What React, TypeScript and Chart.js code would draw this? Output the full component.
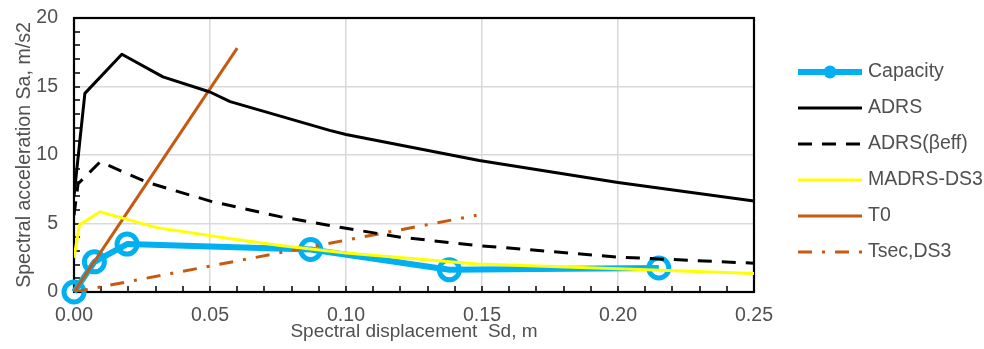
import React, { useEffect, useRef } from "react";
import { Chart, registerables } from "chart.js";

Chart.register(...registerables);

// ---- Data (Sd in m, Sa in m/s2) ----
const capacitySd = [0, 0.0075, 0.0195, 0.087, 0.138, 0.215];
const capacitySa = [0, 2.2, 3.5, 3.1, 1.62, 1.75];

const adrsSd = [0, 0.004, 0.0176, 0.0327, 0.05, 0.0574, 0.094, 0.1, 0.149, 0.2, 0.25];
const adrsSa = [7.0, 14.5, 17.35, 15.7, 14.6, 13.9, 11.8, 11.5, 9.6, 8.0, 6.65];

const adrsEffSd = [0, 0.0015, 0.0096, 0.027, 0.0507, 0.0757, 0.1, 0.12, 0.148, 0.2, 0.25];
const adrsEffSa = [5.6, 7.9, 9.5, 8.0, 6.6, 5.5, 4.65, 4.0, 3.4, 2.55, 2.1];

const madrsSd = [0, 0.002, 0.0096, 0.0305, 0.057, 0.0757, 0.1, 0.148, 0.2, 0.25];
const madrsSa = [2.5, 4.9, 5.85, 4.7, 3.9, 3.4, 2.85, 2.05, 1.7, 1.35];

const t0Sd = [0, 0.06];
const t0Sa = [0, 17.8];

const tsecSd = [0, 0.148];
const tsecSa = [0, 5.6];

const seriesLabels = ["Capacity", "ADRS", "ADRS(βeff)", "MADRS-DS3", "T0", "Tsec,DS3"];

const xMin = 0;
const xMax = 0.25;
const xStep = 0.05;
const xMinorStep = 0.01;
const yMin = 0;
const yMax = 20;
const yStep = 5;
const yMinorStep = 1;

const xTitle = "Spectral displacement  Sd, m";
const yTitle = "Spectral acceleration Sa, m/s2";

const FONT = "'Liberation Sans', Arial, sans-serif";
const TEXT_COLOR = "#505050";

const pts = (xs: number[], ys: number[]) => xs.map((x, i) => ({ x, y: ys[i] }));

const framePlugin = {
  id: "frameAndMinorTicks",
  beforeDatasetsDraw(chart: any) {
    const { ctx, chartArea } = chart;
    const { left, right, top, bottom } = chartArea;
    const xs = chart.scales.x;
    const ys = chart.scales.y;
    ctx.save();
    ctx.strokeStyle = "#000";
    ctx.lineWidth = 1.5;
    ctx.beginPath();
    const nx = Math.round((xMax - xMin) / xMinorStep);
    for (let i = 0; i <= nx; i++) {
      const px = Math.round(xs.getPixelForValue(xMin + i * xMinorStep));
      ctx.moveTo(px, bottom);
      ctx.lineTo(px, bottom - 6);
    }
    const ny = Math.round((yMax - yMin) / yMinorStep);
    for (let i = 0; i <= ny; i++) {
      const py = Math.round(ys.getPixelForValue(yMin + i * yMinorStep));
      ctx.moveTo(left, py);
      ctx.lineTo(left + 6, py);
    }
    ctx.stroke();
    ctx.lineWidth = 2.2;
    ctx.strokeRect(left, top, right - left, bottom - top);
    ctx.restore();
  },
};

const legendPlugin = {
  id: "customLegend",
  afterDraw(chart: any) {
    const { ctx, chartArea } = chart;
    const x0 = chartArea.right + 44;
    const x1 = x0 + 64;
    const y0 = chartArea.top + 54;
    const dy = 36;
    ctx.save();
    chart.data.datasets.forEach((ds: any, i: number) => {
      const y = y0 + i * dy;
      ctx.beginPath();
      ctx.strokeStyle = ds.borderColor;
      ctx.lineWidth = ds.borderWidth;
      ctx.setLineDash(ds.borderDash || []);
      ctx.lineCap = "butt";
      ctx.moveTo(x0, y);
      ctx.lineTo(x1, y);
      ctx.stroke();
      ctx.setLineDash([]);
      if (ds.pointRadius > 0) {
        ctx.beginPath();
        ctx.fillStyle = ds.pointBorderColor;
        ctx.arc((x0 + x1) / 2, y, 6.5, 0, Math.PI * 2);
        ctx.fill();
      }
      ctx.fillStyle = TEXT_COLOR;
      ctx.font = `19.5px ${FONT}`;
      ctx.textBaseline = "middle";
      ctx.textAlign = "left";
      ctx.fillText(ds.label, x1 + 6, y);
    });
    ctx.restore();
  },
};

export default function App() {
  const ref = useRef<HTMLCanvasElement>(null);

  useEffect(() => {
    document.body.style.margin = "0";
    const canvas = ref.current!;
    const orange = "#C55A11";
    const chart = new Chart(canvas, {
      type: "scatter",
      data: {
        datasets: [
          {
            label: seriesLabels[0],
            data: pts(capacitySd, capacitySa),
            showLine: true,
            borderColor: "#00B0F0",
            borderWidth: 6,
            pointRadius: 10,
            pointBorderWidth: 5,
            pointBorderColor: "#00B0F0",
            pointBackgroundColor: "rgba(0,0,0,0)",
            borderJoinStyle: "round",
            order: 1,
            clip: false,
          },
          {
            label: seriesLabels[1],
            data: pts(adrsSd, adrsSa),
            showLine: true,
            borderColor: "#000000",
            borderWidth: 3,
            pointRadius: 0,
            borderJoinStyle: "round",
            order: 0,
          },
          {
            label: seriesLabels[2],
            data: pts(adrsEffSd, adrsEffSa),
            showLine: true,
            borderColor: "#000000",
            borderWidth: 3,
            borderDash: [14, 10],
            pointRadius: 0,
            order: 0,
          },
          {
            label: seriesLabels[3],
            data: pts(madrsSd, madrsSa),
            showLine: true,
            borderColor: "#FFFF00",
            borderWidth: 3,
            pointRadius: 0,
            borderJoinStyle: "round",
            order: 0,
          },
          {
            label: seriesLabels[4],
            data: pts(t0Sd, t0Sa),
            showLine: true,
            borderColor: orange,
            borderWidth: 3,
            pointRadius: 0,
            order: 0,
          },
          {
            label: seriesLabels[5],
            data: pts(tsecSd, tsecSa),
            showLine: true,
            borderColor: orange,
            borderWidth: 3,
            borderDash: [14, 10, 3, 10],
            pointRadius: 0,
            order: 0,
          },
        ],
      },
      options: {
        responsive: false,
        animation: false,
        events: [],
        layout: { padding: { left: 0, top: 18, right: 230, bottom: 0 } },
        plugins: {
          legend: { display: false },
          tooltip: { enabled: false },
        },
        scales: {
          x: {
            type: "linear",
            min: xMin,
            max: xMax,
            afterFit: (s: any) => {
              s.height = 57;
              s.paddingLeft = 0;
              s.paddingRight = 0;
            },
            ticks: {
              stepSize: xStep,
              padding: 12,
              color: TEXT_COLOR,
              font: { family: FONT, size: 19.5 },
              callback: (v: any) => Number(v).toFixed(2),
            },
            grid: { color: "#D9D9D9", lineWidth: 1.5, drawTicks: false },
            border: { display: false },
            title: {
              display: true,
              text: xTitle,
              color: TEXT_COLOR,
              font: { family: FONT, size: 19 },
              padding: { top: 0, bottom: 6 },
            },
          },
          y: {
            type: "linear",
            min: yMin,
            max: yMax,
            afterFit: (s: any) => {
              s.width = 74;
              s.paddingTop = 0;
              s.paddingBottom = 0;
            },
            ticks: {
              stepSize: yStep,
              padding: 16,
              color: TEXT_COLOR,
              font: { family: FONT, size: 19.5 },
            },
            grid: { color: "#D9D9D9", lineWidth: 1.5, drawTicks: false },
            border: { display: false },
            title: {
              display: true,
              text: yTitle,
              color: TEXT_COLOR,
              font: { family: FONT, size: 19.6 },
              padding: { top: 13, bottom: 0 },
            },
          },
        },
      },
      plugins: [framePlugin, legendPlugin],
    } as any);
    return () => chart.destroy();
  }, []);

  return (
    <div style={{ width: 984, height: 349 }}>
      <canvas ref={ref} width={984} height={349} style={{ display: "block" }} />
    </div>
  );
}
